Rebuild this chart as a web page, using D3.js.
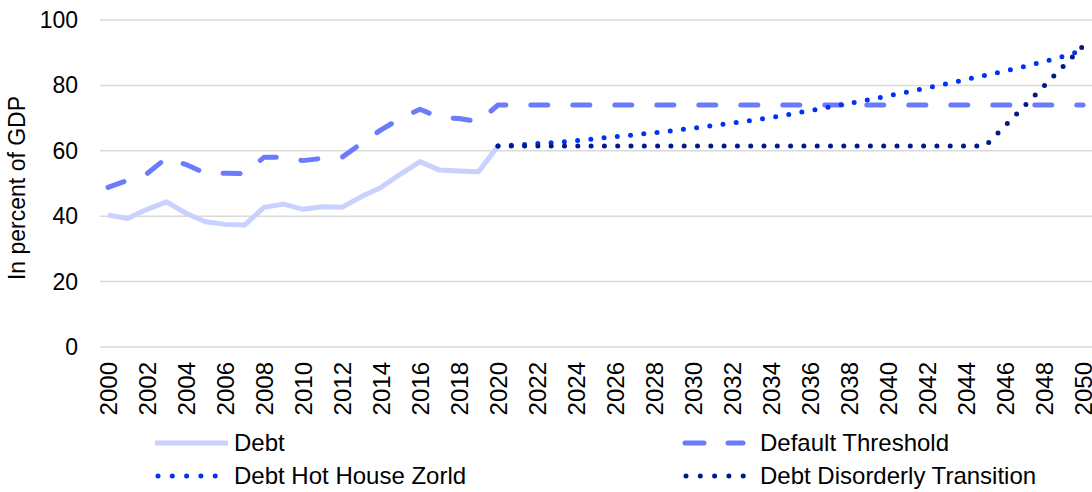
<html>
  <head>
    <script src="https://d3js.org/d3.v7.min.js"></script>
    <style>
      body { margin: 0; background: #fff; }
      text { font-family: "Liberation Sans", Arial, sans-serif; fill: #000; }
    </style>
  </head>
  <body>
    <svg width="1092" height="492"></svg>
    <script>
      // data
      var years = d3.range(2000, 2051);
      var debt = [40.4, 39.3, 42.1, 44.4, 40.9, 38.3, 37.5, 37.3, 42.7, 43.7,
                  42.1, 42.9, 42.7, 46.0, 48.8, 52.9, 56.7, 54.1, 53.8, 53.6, 61.5];
      var threshold = [48.8, 51.0, 53.0, 57.8, 55.8, 53.1, 53.1, 53.0, 58.0, 58.0,
                       57.0, 57.7, 58.0, 62.3, 66.4, 69.9, 72.7, 70.2, 69.9, 68.9, 74.0,
                       74, 74, 74, 74, 74, 74, 74, 74, 74, 74, 74, 74, 74, 74, 74,
                       74, 74, 74, 74, 74, 74, 74, 74, 74, 74, 74, 74, 74, 74, 74];
      // scenarios start in 2020
      var hotHouse = [61.5, 61.8, 62.2, 62.6, 63.1, 63.7, 64.3, 64.9, 65.5, 66.2, 66.9,
                      67.7, 68.5, 69.3, 70.2, 71.2, 72.3, 73.4, 74.5, 75.6, 76.8,
                      78.0, 79.2, 80.5, 81.8, 83.1, 84.4, 85.8, 87.3, 88.9, 90.8];
      var disorderly = [61.5, 61.5, 61.5, 61.5, 61.5, 61.5, 61.5, 61.5, 61.5, 61.5, 61.5,
                        61.5, 61.5, 61.5, 61.5, 61.5, 61.5, 61.5, 61.5, 61.5, 61.5,
                        61.5, 61.5, 61.5, 61.5, 61.5, 67.6, 73.7, 79.8, 85.9, 92.0];
      var yTicks = [0, 20, 40, 60, 80, 100];

      var svg = d3.select("svg");

      var x = d3.scalePoint().domain(years).range([108, 1083]);
      var y = d3.scaleLinear().domain([0, 100]).range([347, 20]);

      // grid
      svg.append("g")
        .selectAll("line")
        .data(yTicks)
        .enter().append("line")
        .attr("x1", 100)
        .attr("x2", 1092)
        .attr("y1", function(d) { return y(d); })
        .attr("y2", function(d) { return y(d); })
        .attr("stroke", "#d9d9d9")
        .attr("stroke-width", 1.5);

      // y labels
      svg.append("g")
        .selectAll("text")
        .data(yTicks)
        .enter().append("text")
        .attr("x", 78)
        .attr("y", function(d) { return y(d); })
        .attr("dy", "0.35em")
        .attr("text-anchor", "end")
        .attr("font-size", "23px")
        .text(function(d) { return d; });

      svg.append("text")
        .attr("transform", "translate(25,188) rotate(-90)")
        .attr("text-anchor", "middle")
        .attr("font-size", "23px")
        .text("In percent of GDP");

      // x labels, every 2nd year (2050 runs off the edge like the original)
      svg.append("g")
        .selectAll("text")
        .data(years.filter(function(d) { return d % 2 === 0; }))
        .enter().append("text")
        .attr("transform", function(d) { return "translate(" + (x(d) + 8.5) + ",362) rotate(-90)"; })
        .attr("text-anchor", "end")
        .attr("font-size", "24px")
        .text(function(d) { return d; });

      var line = d3.line()
        .x(function(d) { return x(d[0]); })
        .y(function(d) { return y(d[1]); });

      function pairs(vals, start) {
        return vals.map(function(v, i) { return [start + i, v]; });
      }

      var series = [
        { name: "Debt", data: pairs(debt, 2000), color: "#c9d1ff", dash: null, cap: "butt" },
        { name: "Default Threshold", data: pairs(threshold, 2000), color: "#6a7bfc", dash: "17 25", cap: "round" },
        { name: "Debt Hot House Zorld", data: pairs(hotHouse, 2020), color: "#0031f5", dash: "0 13.3", cap: "round" },
        { name: "Debt Disorderly Transition", data: pairs(disorderly, 2020), color: "#001a8c", dash: "0 13.3", cap: "round" }
      ];

      svg.append("g")
        .selectAll("path")
        .data(series)
        .enter().append("path")
        .attr("d", function(d) { return line(d.data); })
        .attr("fill", "none")
        .attr("stroke", function(d) { return d.color; })
        .attr("stroke-width", 5)
        .attr("stroke-linejoin", "round")
        .attr("stroke-linecap", function(d) { return d.cap; })
        .attr("stroke-dasharray", function(d) { return d.dash; });

      // legend
      var legendPos = [[155, 443], [683, 443], [158, 476], [686, 476]];
      var legend = svg.append("g")
        .selectAll("g")
        .data(series)
        .enter().append("g")
        .attr("transform", function(d, i) { return "translate(" + legendPos[i][0] + "," + legendPos[i][1] + ")"; });

      legend.append("line")
        .attr("x1", function(d, i) { return i === 1 ? 2 : 0; })
        .attr("x2", function(d, i) { return i === 0 ? 73 : 60; })
        .attr("stroke", function(d) { return d.color; })
        .attr("stroke-width", 5)
        .attr("stroke-linecap", function(d) { return d.cap; })
        .attr("stroke-dasharray", function(d, i) { return i === 1 ? "19 24" : (i === 0 ? null : "0 14.3"); });

      legend.append("text")
        .attr("x", function(d, i) { return i % 2 === 0 ? 234 - legendPos[i][0] : 760 - legendPos[i][0]; })
        .attr("dy", "0.35em")
        .attr("font-size", "24px")
        .text(function(d) { return d.name; });
    </script>
  </body>
</html>
